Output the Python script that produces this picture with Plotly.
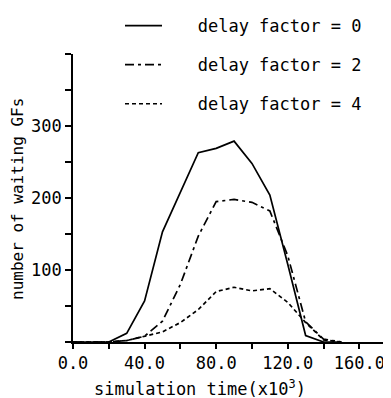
import plotly.graph_objects as go

# simulation time (x10^3)
sim_time = [0, 10, 20, 30, 40, 50, 60, 70, 80, 90, 100, 110, 120, 130, 140, 150]
# number of waiting GFs
delay0 = [0, 0, 0, 12, 57, 153, 207, 263, 269, 279, 248, 204, 108, 9, 0, 0]
delay2 = [0, 0, 0, 2, 8, 29, 80, 147, 195, 198, 194, 182, 120, 28, 4, 0]
delay4 = [0, 0, 0, 2, 8, 14, 27, 45, 70, 76, 71, 74, 55, 27, 3, 0]

series_names = ["delay factor = 0", "delay factor = 2", "delay factor = 4"]
x_tickvals = [0, 40, 80, 120, 160]
y_tickvals = [100, 200, 300]

FONT = "DejaVu Sans Mono"
GAP = "\u00a0" * 3

fig = go.Figure()
styles = ["solid", "9px,4px,3px,4px", "4px,3px"]
for name, vals, dash, grp in zip(series_names, [delay0, delay2, delay4], styles, ["a", "b", "c"]):
    fig.add_trace(go.Scatter(
        x=sim_time, y=vals, mode="lines", name=GAP + name, legendgroup=grp,
        line=dict(color="black", width=1.7, dash=dash),
    ))

# page body has an 8px margin, so the figure is laid out in 383x390
fig.update_layout(
    width=383, height=390,
    margin=dict(l=65, r=0, t=44, b=56),
    paper_bgcolor="white", plot_bgcolor="white",
    font=dict(family=FONT, color="black", size=17),
    showlegend=True,
    legend=dict(
        x=(112 - 65) / 318, y=1.16, xanchor="left", yanchor="top",
        font=dict(size=17, family=FONT), itemwidth=37,
        tracegroupgap=14, bgcolor="rgba(0,0,0,0)",
    ),
    xaxis=dict(
        range=[0, 177.7], showgrid=False, zeroline=False,
        showline=True, linecolor="black", linewidth=1.6,
        tickvals=x_tickvals, tickformat=".1f",
        ticks="outside", ticklen=5, tickwidth=1.5, tickcolor="black",
        minor=dict(dtick=20, tick0=0, ticks="outside", ticklen=5, tickwidth=1.5, tickcolor="black"),
        tickfont=dict(size=17, family=FONT),
    ),
    yaxis=dict(
        range=[0, 400], showgrid=False, zeroline=False,
        showline=True, linecolor="black", linewidth=1.6,
        tickvals=y_tickvals,
        ticks="outside", ticklen=6, tickwidth=1.5, tickcolor="black",
        minor=dict(dtick=50, tick0=0, ticks="outside", ticklen=6, tickwidth=1.5, tickcolor="black"),
        tickfont=dict(size=17, family=FONT),
    ),
    annotations=[
        dict(text="simulation time(x10<sup>3</sup>)", xref="paper", yref="paper",
             x=(192 - 65) / 318, y=-0.16, xanchor="center", yanchor="middle", showarrow=False,
             font=dict(size=17, family=FONT)),
        dict(text="number of waiting GFs", xref="paper", yref="paper",
             x=-0.173, y=(334 - 190) / 290, xanchor="center", yanchor="middle", showarrow=False,
             textangle=-90, font=dict(size=16, family=FONT)),
    ],
)

fig.write_html("out.html")
